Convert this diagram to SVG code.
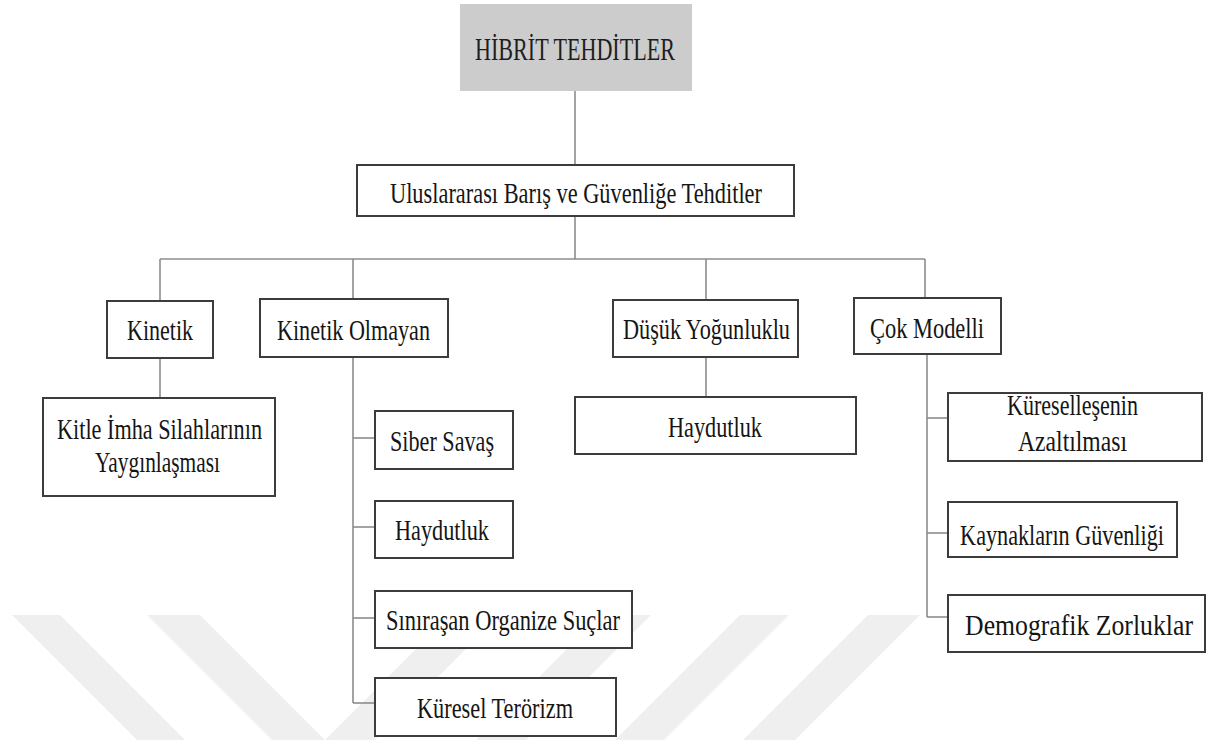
<svg xmlns="http://www.w3.org/2000/svg" width="1219" height="740" viewBox="0 0 1219 740">
<style>
.bg{fill:#ffffff}
.wm{fill:#efefef}
.box{fill:#ffffff;stroke:#3c3c3c;stroke-width:2}
.title{fill:#cccccc;stroke:none}
.t{font-family:"Liberation Serif","Times New Roman",serif;font-size:29px;fill:#151515;text-anchor:middle}
.tt{font-family:"Liberation Serif","Times New Roman",serif;font-size:31px;fill:#1e1e1e;text-anchor:middle}
.c line{stroke:#8c8c8c;stroke-width:1.6;fill:none}
</style>
<rect class="bg" x="0" y="0" width="1219" height="740"/>
<g id="watermark">
<polygon class="wm" points="12,615 60,615 185,740 137,740"/>
<polygon class="wm" points="147,615 200,615 325,740 272,740"/>
<polygon class="wm" points="450,615 500,615 375,740 325,740"/>
<polygon class="wm" points="601,615 651,615 526,740 476,740"/>
<polygon class="wm" points="740,615 789,615 664,740 615,740"/>
<polygon class="wm" points="868,615 920,615 795,740 743,740"/>
</g>
<g id="connectors" class="c">
<line x1="575" y1="91" x2="575" y2="165"/>
<line x1="575" y1="216" x2="575" y2="259"/>
<line x1="160" y1="259" x2="925" y2="259"/>
<line x1="160" y1="259" x2="160" y2="301"/>
<line x1="353" y1="259" x2="353" y2="299"/>
<line x1="706" y1="259" x2="706" y2="300"/>
<line x1="925" y1="259" x2="925" y2="298"/>
<line x1="160" y1="358" x2="160" y2="398"/>
<line x1="353" y1="357" x2="353" y2="703"/>
<line x1="353" y1="438" x2="375" y2="438"/>
<line x1="353" y1="527" x2="375" y2="527"/>
<line x1="353" y1="618" x2="375" y2="618"/>
<line x1="353" y1="703" x2="375" y2="703"/>
<line x1="706" y1="357" x2="706" y2="397"/>
<line x1="927" y1="354" x2="927" y2="617"/>
<line x1="927" y1="418" x2="948" y2="418"/>
<line x1="927" y1="533" x2="948" y2="533"/>
<line x1="927" y1="617" x2="948" y2="617"/>
</g>
<g id="n-hibrit">
<rect class="title" x="460" y="4" width="232" height="87"/>
<text class="tt" x="575" y="60" textLength="200" lengthAdjust="spacingAndGlyphs">HİBRİT TEHDİTLER</text>
</g>
<g id="n-uluslararasi">
<rect class="box" x="357" y="165" width="437" height="51"/>
<text class="t" x="576" y="203" textLength="372" lengthAdjust="spacingAndGlyphs">Uluslararası Barış ve Güvenliğe Tehditler</text>
</g>
<g id="n-kinetik">
<rect class="box" x="107" y="301" width="106" height="57"/>
<text class="t" x="160" y="340" textLength="66" lengthAdjust="spacingAndGlyphs">Kinetik</text>
</g>
<g id="n-kinetik-olmayan">
<rect class="box" x="260" y="299" width="188" height="58"/>
<text class="t" x="353.5" y="340" textLength="153" lengthAdjust="spacingAndGlyphs">Kinetik Olmayan</text>
</g>
<g id="n-dusuk">
<rect class="box" x="613" y="300" width="185" height="57"/>
<text class="t" x="706.5" y="339" textLength="167" lengthAdjust="spacingAndGlyphs">Düşük Yoğunluklu</text>
</g>
<g id="n-cok-modelli">
<rect class="box" x="854" y="298" width="147" height="56"/>
<text class="t" x="927" y="338" textLength="114" lengthAdjust="spacingAndGlyphs">Çok Modelli</text>
</g>
<g id="n-kitle">
<rect class="box" x="43" y="398" width="232" height="98"/>
<text class="t" x="159.5" y="439" textLength="205" lengthAdjust="spacingAndGlyphs">Kitle İmha Silahlarının</text>
<text class="t" x="157.5" y="472" textLength="125" lengthAdjust="spacingAndGlyphs">Yaygınlaşması</text>
</g>
<g id="n-siber">
<rect class="box" x="375" y="411" width="138" height="58"/>
<text class="t" x="442" y="451" textLength="104" lengthAdjust="spacingAndGlyphs">Siber Savaş</text>
</g>
<g id="n-haydutluk-1">
<rect class="box" x="375" y="501" width="138" height="57"/>
<text class="t" x="442" y="540" textLength="94" lengthAdjust="spacingAndGlyphs">Haydutluk</text>
</g>
<g id="n-sinirasan">
<rect class="box" x="375" y="591" width="257" height="57"/>
<text class="t" x="503" y="630" textLength="234" lengthAdjust="spacingAndGlyphs">Sınıraşan Organize Suçlar</text>
</g>
<g id="n-kuresel-terorizm">
<rect class="box" x="375" y="678" width="241" height="58"/>
<text class="t" x="495" y="718" textLength="156" lengthAdjust="spacingAndGlyphs">Küresel Terörizm</text>
</g>
<g id="n-haydutluk-2">
<rect class="box" x="575" y="397" width="281" height="57"/>
<text class="t" x="715" y="437" textLength="94" lengthAdjust="spacingAndGlyphs">Haydutluk</text>
</g>
<g id="n-kuresellesenin">
<rect class="box" x="948" y="393" width="254" height="68"/>
<text class="t" x="1072.5" y="415" textLength="131" lengthAdjust="spacingAndGlyphs">Küreselleşenin</text>
<text class="t" x="1072.5" y="451" textLength="109" lengthAdjust="spacingAndGlyphs">Azaltılması</text>
</g>
<g id="n-kaynaklar">
<rect class="box" x="948" y="502" width="229" height="55"/>
<text class="t" transform="translate(1062 545) scale(0.765 1)" x="0" y="0">Kaynakların Güvenliği</text>
</g>
<g id="n-demografik">
<rect class="box" x="948" y="595" width="257" height="57"/>
<text class="t" transform="translate(1079 635) scale(0.8875 1)" x="0" y="0">Demografik Zorluklar</text>
</g>
</svg>
